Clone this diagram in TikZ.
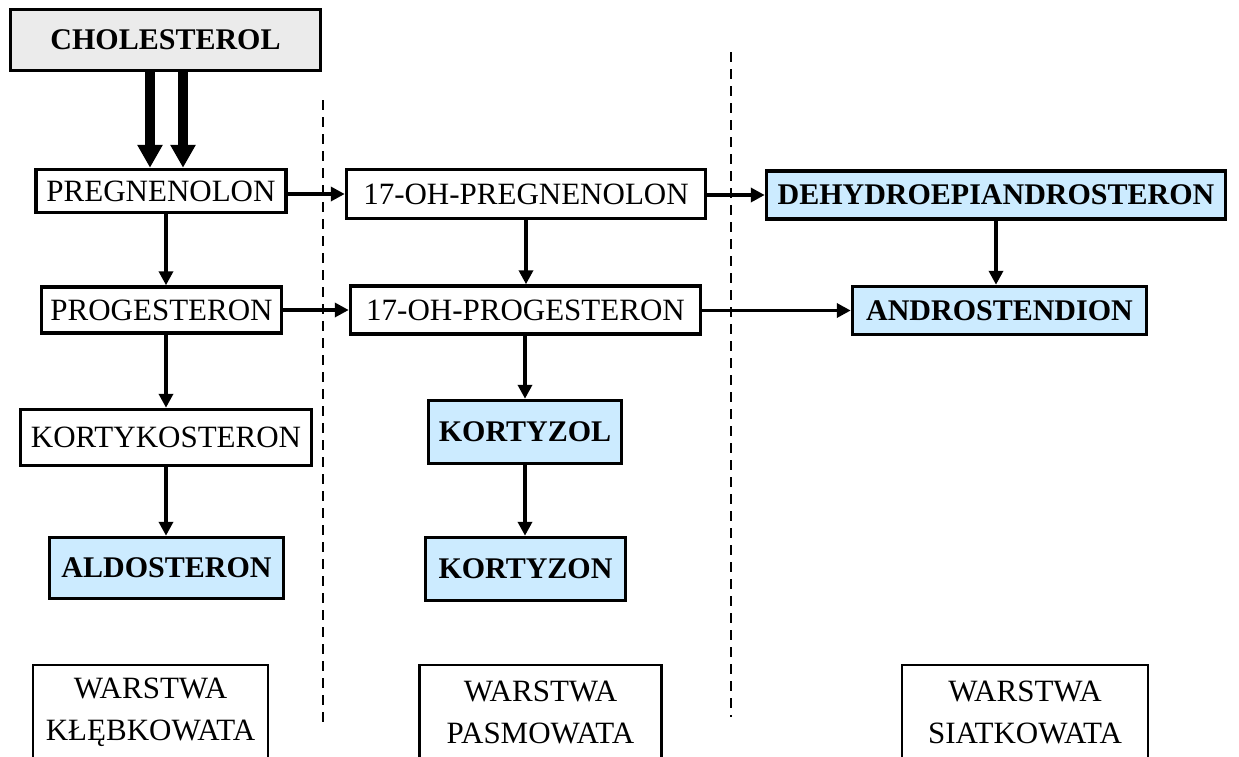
\documentclass[tikz,border=0pt]{standalone}
\usepackage{fontspec}
\setmainfont{Liberation Serif}
\usetikzlibrary{arrows.meta}
\definecolor{lblue}{HTML}{CCEBFF}
\definecolor{lgray}{HTML}{EBEBEB}
\begin{document}
\begin{tikzpicture}[x=1pt,y=-1pt,
  box/.style={draw=black, line width=3.5pt, inner sep=0pt, fill=white, font=\fontsize{31}{36}\selectfont},
  hbox/.style={box, fill=lblue, font=\fontsize{30}{36}\selectfont\bfseries},
  arr/.style={line width=3.5pt, -{Triangle[length=14pt,width=14pt]}},
  bigarr/.style={line width=10pt, -{Triangle[length=23pt,width=24pt]}},
  sepline/.style={line width=2.5pt, dash pattern=on 10pt off 7pt},
  layer/.style={draw=black, line width=2.5pt, inner sep=0pt, align=center, font=\fontsize{31}{42}\selectfont}]
\clip (0,0) rectangle (1239,756);
% dashed separators
\coordinate (s1a) at (323,100);
\coordinate (s1b) at (323,722);
\coordinate (s2a) at (731,52);
\coordinate (s2b) at (731,717);
\draw[sepline] (s1a) -- (s1b);
\draw[sepline] (s2a) -- (s2b);
% nodes
\node[box, fill=lgray, font=\fontsize{30}{36}\selectfont\bfseries, minimum width=310pt, minimum height=61pt] (chol) at (165.5,40) {CHOLESTEROL};
\node[box, minimum width=250pt, minimum height=43pt] (preg) at (161,191) {PREGNENOLON};
\node[box, minimum width=359pt, minimum height=49pt] (ohpreg) at (526,194) {17-OH-PREGNENOLON};
\node[hbox, minimum width=459pt, minimum height=48pt] (dhea) at (996,195) {DEHYDROEPIANDROSTERON};
\node[box, minimum width=240pt, minimum height=46pt] (prog) at (161.5,310) {PROGESTERON};
\node[box, minimum width=350pt, minimum height=48pt] (ohprog) at (525.5,310) {17-OH-PROGESTERON};
\node[hbox, minimum width=294pt, minimum height=48pt] (andro) at (999.5,310.5) {ANDROSTENDION};
\node[box, minimum width=291pt, minimum height=56pt] (kyk) at (166,437.5) {KORTYKOSTERON};
\node[hbox, minimum width=234pt, minimum height=61pt] (aldo) at (166.5,568) {ALDOSTERON};
\node[hbox, minimum width=193pt, minimum height=63pt] (kzol) at (525,432) {KORTYZOL};
\node[hbox, minimum width=200pt, minimum height=63pt] (kzon) at (525.5,569) {KORTYZON};
% layer boxes
\node[layer, minimum width=235pt, minimum height=94pt] (l1) at (150.5,712) {WARSTWA\\KŁĘBKOWATA};
\node[layer, minimum width=242pt, minimum height=94pt] (l2) at (540.5,712) {WARSTWA\\PASMOWATA};
\node[layer, minimum width=246pt, minimum height=94pt] (l3) at (1025,712) {WARSTWA\\SIATKOWATA};
% thick arrows
\coordinate (t1) at (150,0);
\coordinate (t2) at (183,0);
\draw[bigarr] (chol.south -| t1) -- (preg.north -| t1);
\draw[bigarr] (chol.south -| t2) -- (preg.north -| t2);
% horizontal arrows
\draw[arr] (preg.east |- ohpreg.west) -- (ohpreg.west);
\draw[arr] (ohpreg.east |- dhea.west) -- (dhea.west);
\draw[arr] (prog.east |- ohprog.west) -- (ohprog.west);
\draw[arr] (ohprog.east |- andro.west) -- (andro.west);
% vertical arrows
\draw[arr] (preg.south -| kyk.north) -- (prog.north -| kyk.north);
\draw[arr] (prog.south -| kyk.north) -- (kyk.north);
\draw[arr] (kyk.south) -- (aldo.north -| kyk.south);
\draw[arr] (ohpreg.south) -- (ohprog.north -| ohpreg.south);
\draw[arr] (ohprog.south -| kzol.north) -- (kzol.north);
\draw[arr] (kzol.south) -- (kzon.north -| kzol.south);
\draw[arr] (dhea.south) -- (andro.north -| dhea.south);
\end{tikzpicture}
\end{document}
